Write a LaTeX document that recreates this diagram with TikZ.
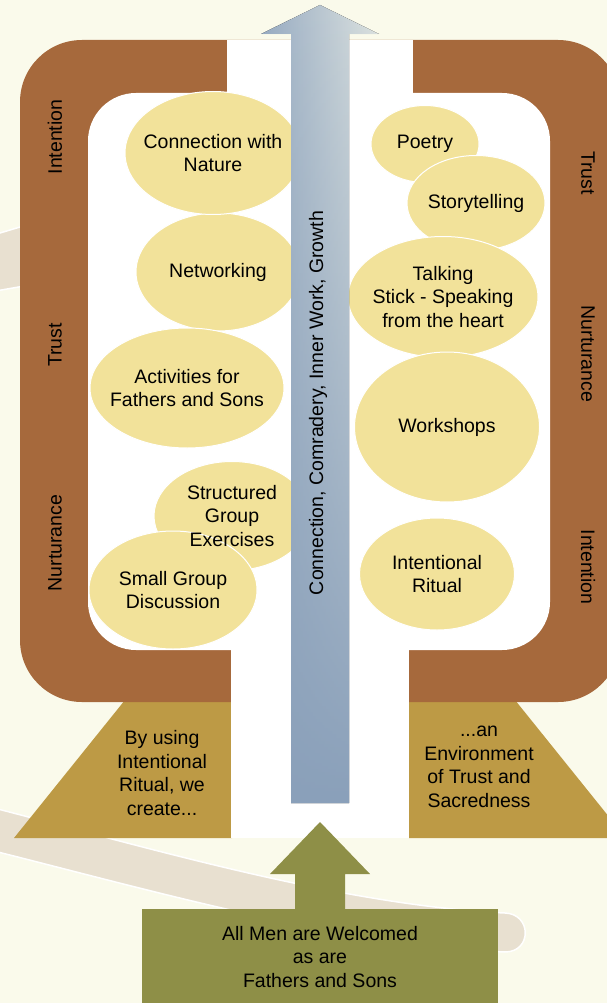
\documentclass[tikz,border=0pt]{standalone}
\usepackage{fontspec}
\setmainfont{Liberation Sans}
\usetikzlibrary{shapes.geometric,fadings}

\definecolor{cream}{HTML}{FAFAEB}
\definecolor{swoosh}{HTML}{E8E0D0}
\definecolor{framebrown}{HTML}{A6693C}
\definecolor{gold}{HTML}{BD9A45}
\definecolor{bubbleyellow}{HTML}{F2E29A}
\definecolor{olivegreen}{HTML}{8E8F47}
\definecolor{arrowleft}{HTML}{97ABC2}
\definecolor{arrowright}{HTML}{DDE3E0}
\definecolor{arrowblue}{HTML}{8AA0BA}

\tikzset{
	bubble/.style={ellipse, fill=bubbleyellow, draw=white, line width=1pt, inner sep=0pt},
	txt/.style={align=center, inner sep=0pt, font=\fontsize{19.5}{23.5}\selectfont},
}

\begin{document}
\begin{tikzpicture}[x=1pt,y=-1pt]
		\useasboundingbox (0,0) rectangle (607,1003);
		\clip (0,0) rectangle (607,1003);
		
		%background
		\fill[cream] (0,0) rectangle (607,1003);
		
		%swoosh
		\filldraw[swoosh, draw=white, line width=1.5pt] (-10,236) -- (30,224) -- (30,285) -- (-10,292) -- cycle;
		\filldraw[swoosh, draw=white, line width=1.5pt] (-10,807) .. controls (150,848) and (340,905) .. (505,913) .. controls (532,914) and (532,952) .. (505,952) .. controls (340,945) and (150,890) .. (-10,850) -- cycle;
		
		%trapezoids
		\fill[gold] (125,700) -- (232,700) -- (232,838) -- (14,838) -- cycle;
		\fill[gold] (515,700) -- (409,700) -- (409,838) -- (626,838) -- cycle;
		
		%frame
		\fill[framebrown, rounded corners=62pt] (20,40) rectangle (620,702);
		\fill[white] (227,40) rectangle (413,100);
		\fill[white] (231,630) rectangle (409,838);
		\fill[white, rounded corners=48pt] (88,93) rectangle (550,650);
		
		%side words
		\node[txt, rotate=90] (lint) at (55,137) {Intention};
		\node[txt, rotate=90] (ltrust) at (55,345) {Trust};
		\node[txt, rotate=90] (lnurt) at (55,543) {Nurturance};
		\node[txt, rotate=-90] (rtrust) at (588,173) {Trust};
		\node[txt, rotate=-90] (rnurt) at (588,354) {Nurturance};
		\node[txt, rotate=-90] (rint) at (588,567) {Intention};
		
		%bubbles left
		\node[bubble, minimum width=164pt, minimum height=118pt] (network) at (218,272) {};
		\node[bubble, minimum width=176pt, minimum height=123pt] (nature) at (213,153) {};
		\node[bubble, minimum width=194pt, minimum height=120pt] (fathers) at (187,388) {};
		\node[bubble, minimum width=156pt, minimum height=109pt] (exercise) at (232,516) {};
		\node[bubble, minimum width=168pt, minimum height=118pt] (smallgroup) at (173,590) {};
		
		%bubbles right
		\node[bubble, minimum width=108pt, minimum height=77pt] (poetry) at (425,144) {};
		\node[bubble, minimum width=138pt, minimum height=95pt] (story) at (476,203) {};
		\node[bubble, minimum width=190pt, minimum height=121pt] (stick) at (443,297) {};
		\node[bubble, minimum width=185pt, minimum height=150pt] (workshop) at (447,427) {};
		\node[bubble, minimum width=155pt, minimum height=112pt] (ritual) at (437,574) {};
		
		\node[txt] at (nature) {Connection with\\Nature};
		\node[txt] at (network) {Networking};
		\node[txt] at (fathers) {Activities for\\Fathers and Sons};
		\node[txt] at (exercise) {Structured\\Group\\Exercises};
		\node[txt] at (smallgroup) {Small Group\\Discussion};
		\node[txt] at (poetry) {Poetry};
		\node[txt] at (story) {Storytelling};
		\node[txt] at (stick) {Talking\\Stick - Speaking\\from the heart};
		\node[txt] at (workshop) {Workshops};
		\node[txt] at (ritual) {Intentional\\Ritual};
		
		%growth arrow
		\fill[left color=arrowleft, right color=arrowright] (291,803) -- (291,34) -- (261,34) -- (320,5) -- (379,34) -- (349,34) -- (349,803) -- cycle;
		\fill[arrowblue, path fading=north] (291,803) -- (291,34) -- (261,34) -- (320,5) -- (379,34) -- (349,34) -- (349,803) -- cycle;
		\node[txt, rotate=90] (growth) at (318,403) {Connection, Comradery, Inner Work, Growth};
		
		%trapezoid text
		\node[txt] (using) at (162,773) {By using\\Intentional\\Ritual, we\\create...};
		\node[txt] (environ) at (479,767) {...an\\Environment\\of Trust and\\Sacredness};
		
		%welcome box
		\node[txt, fill=olivegreen, minimum width=356pt, minimum height=97pt] (welcome) at (320,957) {All Men are Welcomed\\as are\\Fathers and Sons};
		\fill[olivegreen] (295,909) -- (295,874) -- (270,874) -- (320,822) -- (370,874) -- (345,874) -- (345,909) -- cycle;
		
\end{tikzpicture}
\end{document}
